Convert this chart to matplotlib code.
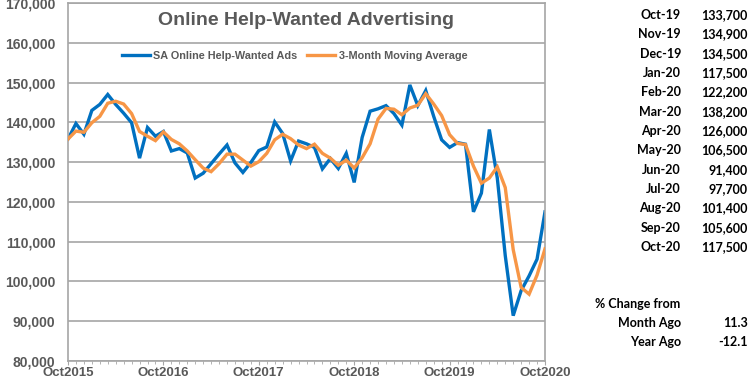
import matplotlib
matplotlib.use("Agg")
import matplotlib.pyplot as plt
from matplotlib.ticker import FuncFormatter, MultipleLocator

# ---- data ----
months = list(range(61))  # Oct 2015 .. Oct 2020
sa_ads = [135800, 139700, 137000, 143000, 144500, 147000, 144500, 142300, 139900, 131000,
          138700, 136500, 137700, 132800, 133400, 132300, 126000, 127200, 129600, 132000,
          134300, 129800, 127400, 129900, 132900, 133800, 140100, 137200, 130300, 135300,
          134600, 133700, 128300, 130900, 128400, 132200, 124900, 136200, 142800, 143400,
          144200, 142200, 139300, 149400, 144200, 148000, 141500, 135600, 133700, 134900,
          134500, 117500, 122200, 138200, 126000, 106500, 91400, 97700, 101400, 105600,
          117500]
moving_avg = [135800, 137800, 137500, 139900, 141500, 144800, 145300, 144600, 142200, 137700,
              136500, 135400, 137600, 135700, 134600, 132800, 130600, 128500, 127600, 129600,
              132000, 132000, 130500, 129000, 130100, 132200, 135600, 137000, 135900, 134300,
              133400, 134500, 132200, 131000, 129200, 130500, 128500, 131100, 134600, 140800,
              143500, 143300, 141900, 143600, 144300, 147200, 144600, 141700, 136900, 134700,
              134400, 129000, 124700, 126000, 128800, 123600, 108000, 98500, 96800, 101600,
              108200]
xtick_pos = [0, 12, 24, 36, 48, 60]
xtick_labels = ["Oct2015", "Oct2016", "Oct2017", "Oct2018", "Oct2019", "Oct2020"]

table_labels = ["Oct-19", "Nov-19", "Dec-19", "Jan-20", "Feb-20", "Mar-20", "Apr-20",
                "May-20", "Jun-20", "Jul-20", "Aug-20", "Sep-20", "Oct-20"]
table_values = ["133,700", "134,900", "134,500", "117,500", "122,200", "138,200", "126,000",
                "106,500", "91,400", "97,700", "101,400", "105,600", "117,500"]
change_labels = ["Month Ago", "Year Ago"]
change_values = ["11.3", "-12.1"]

# ---- figure ----
W, H = 753, 391
fig = plt.figure(figsize=(W / 100, H / 100), dpi=100)
ax = fig.add_axes([68 / W, 1 - 361 / H, (545 - 68) / W, (361 - 3) / H])

BLUE = "#0070C0"
ORANGE = "#F79646"
GRAY = "#595959"
GRID = "#A6A6A6"

ax.plot(months, moving_avg, color=ORANGE, lw=2.4, solid_joinstyle="miter",
        label="3-Month Moving Average", zorder=3)
ax.plot(months, sa_ads, color=BLUE, lw=2.4, solid_joinstyle="miter",
        label="SA Online Help-Wanted Ads", zorder=2)

ax.set_ylim(80000, 170000)
ax.set_xlim(0, 60)
ax.yaxis.set_major_locator(MultipleLocator(10000))
ax.yaxis.set_major_formatter(FuncFormatter(lambda v, p: f"{int(v):,}"))
ax.grid(axis="y", color=GRID, lw=1.2)
ax.set_axisbelow(True)

ax.set_xticks(xtick_pos)
ax.set_xticklabels(xtick_labels)
ax.xaxis.set_minor_locator(MultipleLocator(1))
ax.tick_params(axis="y", length=0, pad=9, labelsize=10, labelcolor=GRAY)
ax.tick_params(axis="x", which="major", length=3, color=GRID, pad=1, labelsize=9.5, labelcolor=GRAY)
ax.tick_params(axis="x", which="minor", length=2, color=GRID)
for lab in ax.get_xticklabels() + ax.get_yticklabels():
    lab.set_fontweight("bold")
    lab.set_fontfamily("Liberation Sans")

for s in ax.spines.values():
    s.set_color(GRID)
    s.set_linewidth(1.2)

ax.text(0.5, 0.95, "Online Help-Wanted Advertising", transform=ax.transAxes,
        ha="center", va="center", fontsize=14, fontweight="bold", color=GRAY,
        family="Liberation Sans")

handles, labels = ax.get_legend_handles_labels()
leg = ax.legend(handles[::-1], labels[::-1], loc="center", bbox_to_anchor=(0.475, 0.852),
                ncol=2, frameon=False, handlelength=2.6, handletextpad=0.3,
                columnspacing=0.9, prop={"family": "Liberation Sans", "weight": "bold", "size": 7.8})
for t in leg.get_texts():
    t.set_color(GRAY)

# ---- right-hand table ----
tfont = dict(family="Lato", fontsize=9, fontweight="bold", color="black")
y0 = 15
dy = 19.33
for i, (lab, val) in enumerate(zip(table_labels, table_values)):
    y = 1 - (y0 + i * dy) / H
    fig.text(681 / W, y, lab, ha="right", va="center", **tfont)
    fig.text(748 / W, y, val, ha="right", va="center", **tfont)

fig.text(680 / W, 1 - 304 / H, "% Change from", ha="right", va="center", **tfont)
for i, (lab, val) in enumerate(zip(change_labels, change_values)):
    y = 1 - (323 + i * 19) / H
    fig.text(681 / W, y, lab, ha="right", va="center", **tfont)
    fig.text(748 / W, y, val, ha="right", va="center", **tfont)

fig.savefig("out.png", dpi=100)
